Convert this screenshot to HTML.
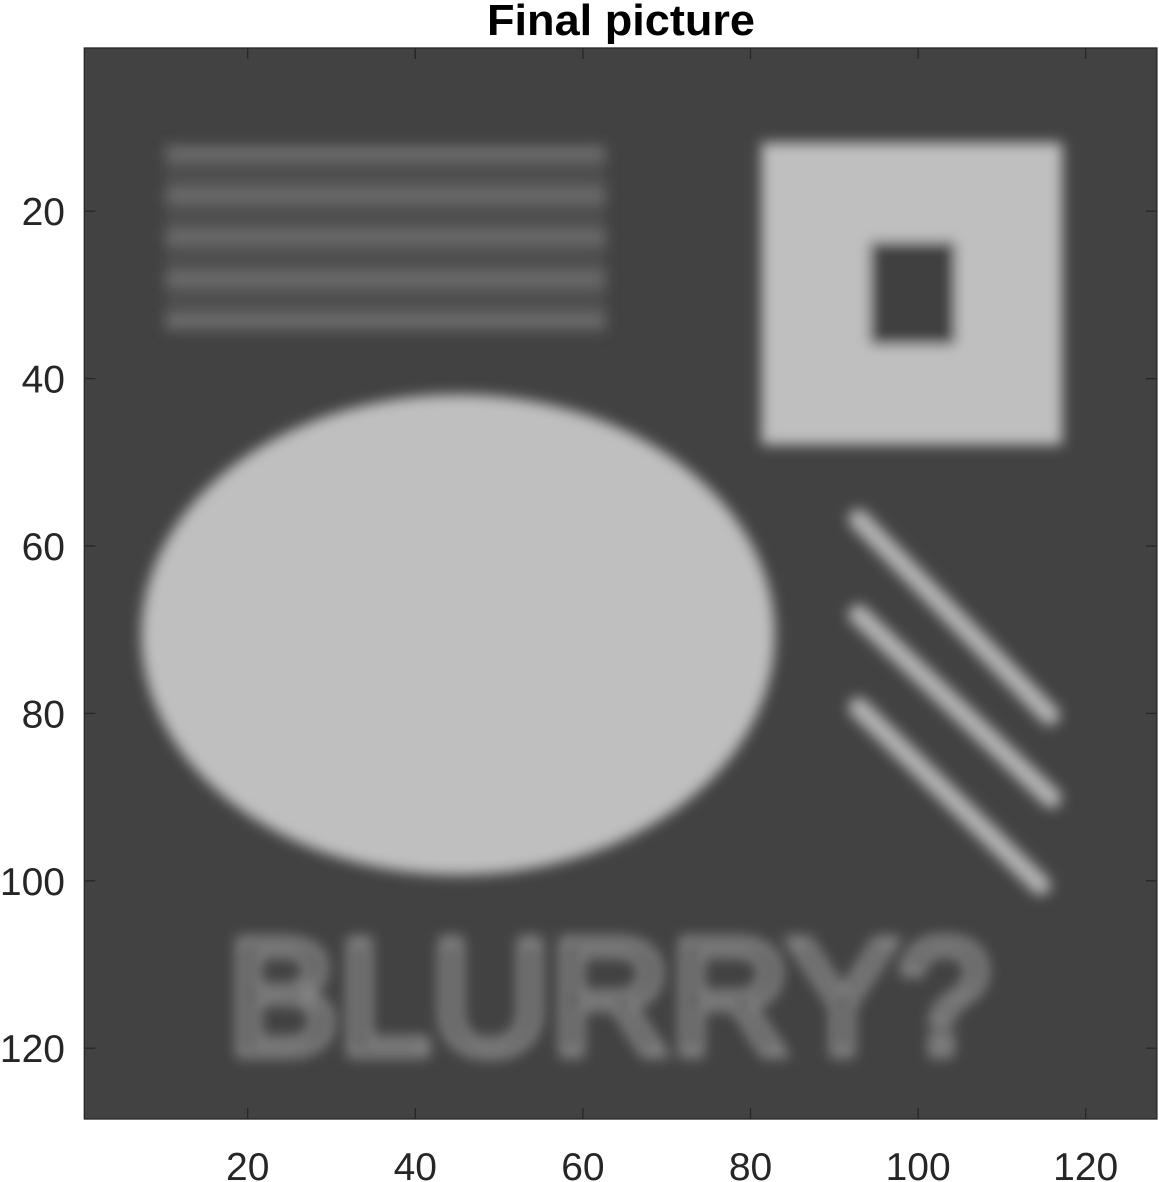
<!DOCTYPE html>
<html><head><meta charset="utf-8"><style>
html,body{margin:0;padding:0;background:#fff;}
svg{display:block;font-family:"Liberation Sans",Arial,sans-serif;}
</style></head><body>
<svg id="chart" width="1159" height="1182" viewBox="0 0 1159 1182" xmlns="http://www.w3.org/2000/svg">
<defs>
<clipPath id="axclip"><rect x="84.3" y="48" width="1072.6" height="1071"/></clipPath>
<filter id="blur" x="-0.1" y="-0.1" width="1.2" height="1.2"><feGaussianBlur stdDeviation="0.8"/></filter>
</defs>
<text x="621" y="35" text-anchor="middle" font-size="44" font-weight="bold" fill="#000" textLength="268" lengthAdjust="spacingAndGlyphs">Final picture</text>
<g clip-path="url(#axclip)"><g id="img" transform="translate(84.3,48) scale(8.38,8.37) translate(-0.5,-0.5)"></g></g>
<g id="axes"></g>
</svg>
<script>
const xTicks=[20,40,60,80,100,120];
const yTicks=[20,40,60,80,100,120];
const stripeRows=[13.1,18.1,23.1,28.1,33.1];
const stripeBlock=[10.2,12,62.7,34.5];
const squareOuter=[81.3,11.8,117.2,47.9];
const squareInner=[94.3,23.7,104.4,35.9];
const ellipseShape=[45.1,70.6,37.8,28.7];
const diagLines=[[92.9,56.8,115.7,80.2],[92.9,68.2,115.9,90.1],[92.9,79.3,114.6,100.5]];
const textBox=[17.6,120.6,91];
const ns="http://www.w3.org/2000/svg";
const X0=84.3,SX=8.38,Y0=48,SY=8.37;
function px(x){return X0+(x-0.5)*SX;}
function py(y){return Y0+(y-0.5)*SY;}
function mk(tag,attrs,parent){const e=document.createElementNS(ns,tag);for(const k in attrs)e.setAttribute(k,attrs[k]);parent.appendChild(e);return e;}
const img=document.getElementById('img');
let bg=mk('rect',{x:0.5,y:0.5,width:128,height:128,fill:'#424242'},img);


const g=mk('g',{filter:'url(#blur)'},img);
let sb=mk('rect',{x:stripeBlock[0],y:stripeBlock[1],width:stripeBlock[2]-stripeBlock[0],height:stripeBlock[3]-stripeBlock[1],fill:'#4f4f4f'},g);


stripeRows.forEach(r=>{
 const s=mk('rect',{x:stripeBlock[0],y:r-0.85,width:stripeBlock[2]-stripeBlock[0],height:1.7,fill:'#6c6c6c'},g);
 
 
});
let so=mk('rect',{x:squareOuter[0],y:squareOuter[1],width:squareOuter[2]-squareOuter[0],height:squareOuter[3]-squareOuter[1],fill:'#bfbfbf'},g);


let si=mk('rect',{x:squareInner[0],y:squareInner[1],width:squareInner[2]-squareInner[0],height:squareInner[3]-squareInner[1],fill:'#404040'},g);


let el=mk('ellipse',{cx:ellipseShape[0],cy:ellipseShape[1],rx:ellipseShape[2],ry:ellipseShape[3],fill:'#bfbfbf'},g);


diagLines.forEach(l=>{
 const d=mk('line',{x1:l[0],y1:l[1],x2:l[2],y2:l[3],stroke:'#b4b4b4','stroke-width':2.4,'stroke-linecap':'round'},g);
 
 
});
const t=mk('text',{x:textBox[0],y:textBox[1],'font-size':19.5,'font-family':'Liberation Sans, sans-serif',fill:'none',stroke:'#8e8e8e','stroke-width':1.0,textLength:textBox[2],lengthAdjust:'spacingAndGlyphs'},g);
t.textContent='BLURRY?';


const ax=document.getElementById('axes');
let frame=mk('rect',{x:84.3,y:48,width:1072.6,height:1071,fill:'none',stroke:'#262626','stroke-width':1.3},ax);


xTicks.forEach(v=>{
 const x=px(v);
 mk('line',{x1:x,y1:1119,x2:x,y2:1108,stroke:'#262626','stroke-width':1.3},ax);
 mk('line',{x1:x,y1:48,x2:x,y2:59,stroke:'#262626','stroke-width':1.3},ax);
 const tl=mk('text',{x:x,y:1180,'text-anchor':'middle','font-size':39,fill:'#262626'},ax);
 tl.textContent=v;
 
 
});
yTicks.forEach(v=>{
 const y=py(v);
 mk('line',{x1:84.3,y1:y,x2:95.3,y2:y,stroke:'#262626','stroke-width':1.3},ax);
 mk('line',{x1:1157,y1:y,x2:1146,y2:y,stroke:'#262626','stroke-width':1.3},ax);
 const tl=mk('text',{x:65,y:y+14,'text-anchor':'end','font-size':39,fill:'#262626'},ax);
 tl.textContent=v;
 
 
});
</script>
</body></html>
